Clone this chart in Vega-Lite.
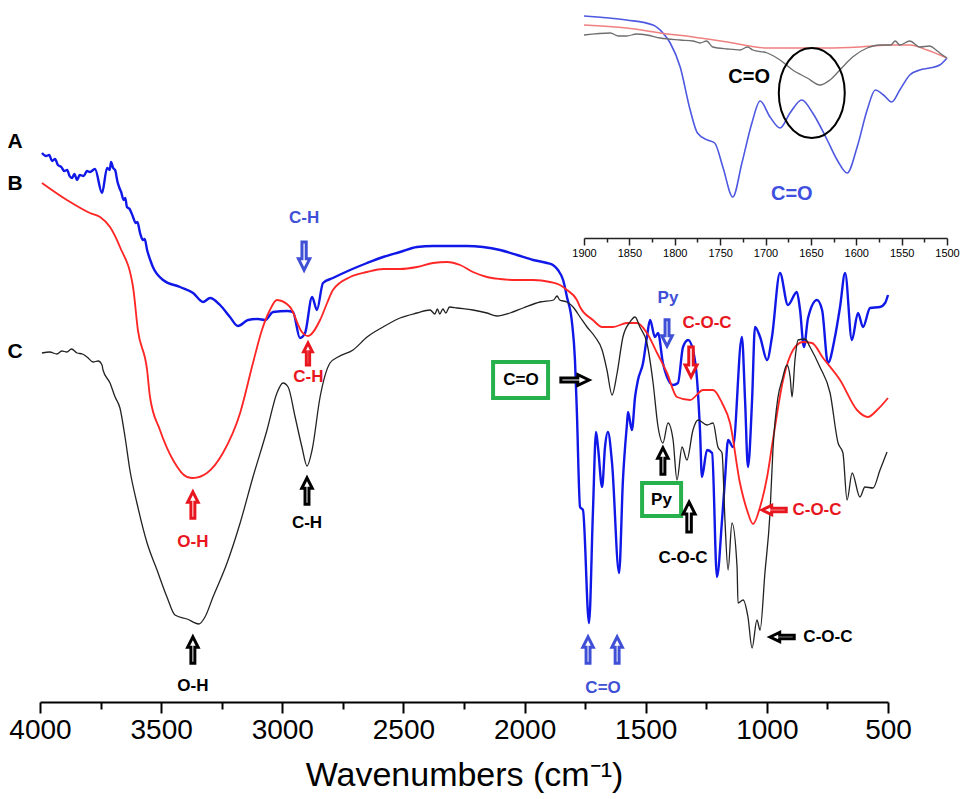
{
"$schema": "https://vega.github.io/schema/vega-lite/v6.json",
"width": 848, "height": 702,
"autosize": "none",
"padding": {"left": 40, "top": 0, "right": 74, "bottom": 97},
"background": "white",
"config": {"view": {"stroke": null}, "font": "Liberation Sans"},
"datasets": {
"main": [
{"s":"A","w":3992,"t":549},{"s":"A","w":3975,"t":546},{"s":"A","w":3962,"t":547},{"s":"A","w":3950,"t":541},{"s":"A","w":3938,"t":543},{"s":"A","w":3926,"t":537},{"s":"A","w":3912,"t":535},{"s":"A","w":3900,"t":531},{"s":"A","w":3888,"t":532},{"s":"A","w":3878,"t":526},{"s":"A","w":3868,"t":524},{"s":"A","w":3858,"t":528},{"s":"A","w":3847,"t":522},{"s":"A","w":3836,"t":527},{"s":"A","w":3820,"t":526},{"s":"A","w":3806,"t":531},{"s":"A","w":3794,"t":530},{"s":"A","w":3773,"t":533},{"s":"A","w":3744,"t":509},{"s":"A","w":3723,"t":534},{"s":"A","w":3712,"t":532},{"s":"A","w":3707,"t":540},{"s":"A","w":3698,"t":534},{"s":"A","w":3690,"t":532},{"s":"A","w":3680,"t":520},{"s":"A","w":3672,"t":514},{"s":"A","w":3665,"t":510},{"s":"A","w":3655,"t":502},{"s":"A","w":3648,"t":504},{"s":"A","w":3641,"t":495},{"s":"A","w":3630,"t":493},{"s":"A","w":3616,"t":485},{"s":"A","w":3605,"t":479},{"s":"A","w":3598,"t":480},{"s":"A","w":3587,"t":469},{"s":"A","w":3575,"t":462},{"s":"A","w":3568,"t":463},{"s":"A","w":3558,"t":452},{"s":"A","w":3545,"t":442},{"s":"A","w":3534,"t":435},{"s":"A","w":3492,"t":422},{"s":"A","w":3422,"t":415},{"s":"A","w":3368,"t":409},{"s":"A","w":3327,"t":400},{"s":"A","w":3298,"t":404},{"s":"A","w":3257,"t":397},{"s":"A","w":3216,"t":385},{"s":"A","w":3183,"t":376},{"s":"A","w":3141,"t":382},{"s":"A","w":3100,"t":383},{"s":"A","w":3071,"t":382},{"s":"A","w":3038,"t":390},{"s":"A","w":2980,"t":391},{"s":"A","w":2956,"t":390},{"s":"A","w":2927,"t":364},{"s":"A","w":2906,"t":369},{"s":"A","w":2877,"t":405},{"s":"A","w":2857,"t":392},{"s":"A","w":2832,"t":419},{"s":"A","w":2791,"t":424},{"s":"A","w":2720,"t":432},{"s":"A","w":2650,"t":439},{"s":"A","w":2584,"t":445},{"s":"A","w":2514,"t":450},{"s":"A","w":2444,"t":455},{"s":"A","w":2378,"t":456},{"s":"A","w":2238,"t":456},{"s":"A","w":2172,"t":455},{"s":"A","w":2101,"t":452},{"s":"A","w":2031,"t":447},{"s":"A","w":1965,"t":442},{"s":"A","w":1907,"t":439},{"s":"A","w":1883,"t":437},{"s":"A","w":1862,"t":432},{"s":"A","w":1841,"t":422},{"s":"A","w":1825,"t":405},{"s":"A","w":1804,"t":379},{"s":"A","w":1792,"t":342},{"s":"A","w":1784,"t":289},{"s":"A","w":1771,"t":195},{"s":"A","w":1759,"t":192},{"s":"A","w":1734,"t":79},{"s":"A","w":1718,"t":189},{"s":"A","w":1705,"t":270},{"s":"A","w":1697,"t":255},{"s":"A","w":1680,"t":215},{"s":"A","w":1668,"t":255},{"s":"A","w":1656,"t":270},{"s":"A","w":1639,"t":239},{"s":"A","w":1610,"t":129},{"s":"A","w":1594,"t":222},{"s":"A","w":1577,"t":279},{"s":"A","w":1573,"t":290},{"s":"A","w":1557,"t":272},{"s":"A","w":1544,"t":305},{"s":"A","w":1532,"t":322},{"s":"A","w":1511,"t":339},{"s":"A","w":1495,"t":365},{"s":"A","w":1482,"t":382},{"s":"A","w":1462,"t":365},{"s":"A","w":1449,"t":369},{"s":"A","w":1429,"t":339},{"s":"A","w":1387,"t":317},{"s":"A","w":1367,"t":319},{"s":"A","w":1346,"t":355},{"s":"A","w":1325,"t":362},{"s":"A","w":1305,"t":352},{"s":"A","w":1288,"t":322},{"s":"A","w":1276,"t":272},{"s":"A","w":1268,"t":225},{"s":"A","w":1247,"t":252},{"s":"A","w":1226,"t":249},{"s":"A","w":1206,"t":125},{"s":"A","w":1185,"t":182},{"s":"A","w":1173,"t":222},{"s":"A","w":1160,"t":262},{"s":"A","w":1140,"t":255},{"s":"A","w":1103,"t":365},{"s":"A","w":1090,"t":302},{"s":"A","w":1078,"t":235},{"s":"A","w":1061,"t":302},{"s":"A","w":1049,"t":375},{"s":"A","w":1028,"t":365},{"s":"A","w":999,"t":342},{"s":"A","w":979,"t":365},{"s":"A","w":946,"t":429},{"s":"A","w":913,"t":397},{"s":"A","w":876,"t":410},{"s":"A","w":863,"t":392},{"s":"A","w":847,"t":355},{"s":"A","w":830,"t":384},{"s":"A","w":793,"t":402},{"s":"A","w":772,"t":392},{"s":"A","w":748,"t":339},{"s":"A","w":719,"t":365},{"s":"A","w":698,"t":395},{"s":"A","w":677,"t":429},{"s":"A","w":649,"t":362},{"s":"A","w":624,"t":389},{"s":"A","w":603,"t":375},{"s":"A","w":574,"t":394},{"s":"A","w":533,"t":395},{"s":"A","w":512,"t":399},{"s":"A","w":500,"t":407},
{"s":"B","w":3992,"t":519},{"s":"B","w":3889,"t":502},{"s":"B","w":3794,"t":489},{"s":"B","w":3752,"t":485},{"s":"B","w":3711,"t":475},{"s":"B","w":3670,"t":455},{"s":"B","w":3616,"t":415},{"s":"B","w":3596,"t":372},{"s":"B","w":3558,"t":332},{"s":"B","w":3546,"t":305},{"s":"B","w":3505,"t":272},{"s":"B","w":3451,"t":242},{"s":"B","w":3393,"t":225},{"s":"B","w":3368,"t":224},{"s":"B","w":3311,"t":229},{"s":"B","w":3245,"t":249},{"s":"B","w":3174,"t":289},{"s":"B","w":3121,"t":339},{"s":"B","w":3084,"t":372},{"s":"B","w":3051,"t":392},{"s":"B","w":3022,"t":402},{"s":"B","w":2968,"t":395},{"s":"B","w":2919,"t":370},{"s":"B","w":2894,"t":366},{"s":"B","w":2844,"t":382},{"s":"B","w":2815,"t":399},{"s":"B","w":2791,"t":412},{"s":"B","w":2720,"t":425},{"s":"B","w":2650,"t":430},{"s":"B","w":2584,"t":433},{"s":"B","w":2514,"t":433},{"s":"B","w":2444,"t":435},{"s":"B","w":2378,"t":439},{"s":"B","w":2320,"t":440},{"s":"B","w":2266,"t":437},{"s":"B","w":2213,"t":430},{"s":"B","w":2155,"t":425},{"s":"B","w":2101,"t":423},{"s":"B","w":2031,"t":422},{"s":"B","w":1965,"t":422},{"s":"B","w":1895,"t":420},{"s":"B","w":1854,"t":417},{"s":"B","w":1825,"t":412},{"s":"B","w":1784,"t":402},{"s":"B","w":1771,"t":395},{"s":"B","w":1718,"t":382},{"s":"B","w":1680,"t":375},{"s":"B","w":1635,"t":375},{"s":"B","w":1577,"t":379},{"s":"B","w":1536,"t":379},{"s":"B","w":1495,"t":369},{"s":"B","w":1453,"t":349},{"s":"B","w":1412,"t":329},{"s":"B","w":1371,"t":305},{"s":"B","w":1317,"t":302},{"s":"B","w":1263,"t":312},{"s":"B","w":1222,"t":312},{"s":"B","w":1185,"t":299},{"s":"B","w":1152,"t":279},{"s":"B","w":1111,"t":219},{"s":"B","w":1082,"t":192},{"s":"B","w":1057,"t":178},{"s":"B","w":1028,"t":195},{"s":"B","w":999,"t":225},{"s":"B","w":975,"t":262},{"s":"B","w":933,"t":322},{"s":"B","w":892,"t":352},{"s":"B","w":851,"t":360},{"s":"B","w":814,"t":359},{"s":"B","w":768,"t":344},{"s":"B","w":698,"t":322},{"s":"B","w":628,"t":292},{"s":"B","w":583,"t":285},{"s":"B","w":545,"t":292},{"s":"B","w":500,"t":304},
{"s":"C","w":3992,"t":349},{"s":"C","w":3960,"t":350},{"s":"C","w":3930,"t":348},{"s":"C","w":3910,"t":351},{"s":"C","w":3889,"t":350},{"s":"C","w":3870,"t":353},{"s":"C","w":3847,"t":349},{"s":"C","w":3825,"t":348},{"s":"C","w":3806,"t":345},{"s":"C","w":3781,"t":340},{"s":"C","w":3760,"t":341},{"s":"C","w":3744,"t":337},{"s":"C","w":3740,"t":332},{"s":"C","w":3711,"t":319},{"s":"C","w":3690,"t":305},{"s":"C","w":3670,"t":294},{"s":"C","w":3649,"t":265},{"s":"C","w":3629,"t":232},{"s":"C","w":3600,"t":199},{"s":"C","w":3558,"t":159},{"s":"C","w":3517,"t":132},{"s":"C","w":3476,"t":105},{"s":"C","w":3443,"t":87},{"s":"C","w":3393,"t":83},{"s":"C","w":3344,"t":78},{"s":"C","w":3319,"t":85},{"s":"C","w":3286,"t":105},{"s":"C","w":3228,"t":139},{"s":"C","w":3174,"t":179},{"s":"C","w":3121,"t":225},{"s":"C","w":3063,"t":272},{"s":"C","w":3022,"t":309},{"s":"C","w":2997,"t":319},{"s":"C","w":2976,"t":315},{"s":"C","w":2947,"t":285},{"s":"C","w":2919,"t":255},{"s":"C","w":2898,"t":236},{"s":"C","w":2877,"t":252},{"s":"C","w":2844,"t":305},{"s":"C","w":2803,"t":339},{"s":"C","w":2770,"t":345},{"s":"C","w":2708,"t":352},{"s":"C","w":2650,"t":365},{"s":"C","w":2584,"t":375},{"s":"C","w":2514,"t":384},{"s":"C","w":2444,"t":389},{"s":"C","w":2390,"t":392},{"s":"C","w":2370,"t":388},{"s":"C","w":2360,"t":393},{"s":"C","w":2350,"t":388},{"s":"C","w":2337,"t":393},{"s":"C","w":2325,"t":389},{"s":"C","w":2310,"t":395},{"s":"C","w":2279,"t":394},{"s":"C","w":2213,"t":392},{"s":"C","w":2155,"t":389},{"s":"C","w":2114,"t":386},{"s":"C","w":2060,"t":389},{"s":"C","w":2006,"t":394},{"s":"C","w":1936,"t":400},{"s":"C","w":1880,"t":402},{"s":"C","w":1866,"t":406},{"s":"C","w":1855,"t":402},{"s":"C","w":1825,"t":400},{"s":"C","w":1800,"t":395},{"s":"C","w":1771,"t":385},{"s":"C","w":1742,"t":375},{"s":"C","w":1709,"t":365},{"s":"C","w":1680,"t":352},{"s":"C","w":1660,"t":332},{"s":"C","w":1639,"t":307},{"s":"C","w":1618,"t":329},{"s":"C","w":1594,"t":365},{"s":"C","w":1565,"t":380},{"s":"C","w":1544,"t":385},{"s":"C","w":1524,"t":375},{"s":"C","w":1495,"t":359},{"s":"C","w":1470,"t":320},{"s":"C","w":1449,"t":275},{"s":"C","w":1429,"t":259},{"s":"C","w":1408,"t":279},{"s":"C","w":1387,"t":262},{"s":"C","w":1371,"t":222},{"s":"C","w":1350,"t":255},{"s":"C","w":1330,"t":242},{"s":"C","w":1305,"t":272},{"s":"C","w":1284,"t":282},{"s":"C","w":1247,"t":277},{"s":"C","w":1222,"t":279},{"s":"C","w":1202,"t":255},{"s":"C","w":1185,"t":249},{"s":"C","w":1173,"t":182},{"s":"C","w":1160,"t":132},{"s":"C","w":1144,"t":179},{"s":"C","w":1123,"t":135},{"s":"C","w":1119,"t":99},{"s":"C","w":1098,"t":102},{"s":"C","w":1078,"t":85},{"s":"C","w":1061,"t":54},{"s":"C","w":1041,"t":82},{"s":"C","w":1028,"t":72},{"s":"C","w":1008,"t":129},{"s":"C","w":987,"t":189},{"s":"C","w":975,"t":252},{"s":"C","w":954,"t":305},{"s":"C","w":937,"t":322},{"s":"C","w":917,"t":337},{"s":"C","w":904,"t":325},{"s":"C","w":896,"t":305},{"s":"C","w":884,"t":342},{"s":"C","w":871,"t":362},{"s":"C","w":842,"t":363},{"s":"C","w":822,"t":355},{"s":"C","w":781,"t":335},{"s":"C","w":739,"t":309},{"s":"C","w":706,"t":259},{"s":"C","w":686,"t":249},{"s":"C","w":669,"t":202},{"s":"C","w":648,"t":229},{"s":"C","w":616,"t":205},{"s":"C","w":595,"t":215},{"s":"C","w":562,"t":214},{"s":"C","w":533,"t":232},{"s":"C","w":504,"t":250}
],
"inset": [
{"s":"A","w":1900,"t":686},{"s":"A","w":1853,"t":682},{"s":"A","w":1824,"t":677},{"s":"A","w":1813,"t":669},{"s":"A","w":1805,"t":659},{"s":"A","w":1794,"t":635},{"s":"A","w":1783,"t":592},{"s":"A","w":1775,"t":569},{"s":"A","w":1764,"t":562},{"s":"A","w":1756,"t":559},{"s":"A","w":1747,"t":535},{"s":"A","w":1736,"t":505},{"s":"A","w":1726,"t":539},{"s":"A","w":1715,"t":579},{"s":"A","w":1706,"t":601},{"s":"A","w":1695,"t":585},{"s":"A","w":1684,"t":574},{"s":"A","w":1673,"t":589},{"s":"A","w":1660,"t":602},{"s":"A","w":1648,"t":589},{"s":"A","w":1632,"t":562},{"s":"A","w":1621,"t":542},{"s":"A","w":1610,"t":529},{"s":"A","w":1599,"t":555},{"s":"A","w":1588,"t":592},{"s":"A","w":1579,"t":612},{"s":"A","w":1570,"t":607},{"s":"A","w":1561,"t":600},{"s":"A","w":1552,"t":612},{"s":"A","w":1541,"t":627},{"s":"A","w":1530,"t":632},{"s":"A","w":1519,"t":634},{"s":"A","w":1508,"t":637},{"s":"A","w":1500,"t":644},
{"s":"B","w":1900,"t":677},{"s":"B","w":1853,"t":674},{"s":"B","w":1816,"t":669},{"s":"B","w":1780,"t":665},{"s":"B","w":1742,"t":660},{"s":"B","w":1698,"t":654},{"s":"B","w":1670,"t":654},{"s":"B","w":1632,"t":654},{"s":"B","w":1596,"t":655},{"s":"B","w":1560,"t":657},{"s":"B","w":1541,"t":657},{"s":"B","w":1522,"t":652},{"s":"B","w":1500,"t":644},
{"s":"C","w":1900,"t":667},{"s":"C","w":1871,"t":669},{"s":"C","w":1862,"t":666},{"s":"C","w":1853,"t":666},{"s":"C","w":1842,"t":668},{"s":"C","w":1831,"t":667},{"s":"C","w":1816,"t":664},{"s":"C","w":1794,"t":662},{"s":"C","w":1780,"t":661},{"s":"C","w":1772,"t":659},{"s":"C","w":1765,"t":661},{"s":"C","w":1758,"t":655},{"s":"C","w":1742,"t":653},{"s":"C","w":1728,"t":652},{"s":"C","w":1720,"t":655},{"s":"C","w":1714,"t":652},{"s":"C","w":1698,"t":649},{"s":"C","w":1684,"t":642},{"s":"C","w":1670,"t":632},{"s":"C","w":1654,"t":624},{"s":"C","w":1640,"t":617},{"s":"C","w":1629,"t":622},{"s":"C","w":1615,"t":635},{"s":"C","w":1604,"t":645},{"s":"C","w":1588,"t":654},{"s":"C","w":1574,"t":657},{"s":"C","w":1562,"t":657},{"s":"C","w":1557,"t":661},{"s":"C","w":1552,"t":657},{"s":"C","w":1541,"t":661},{"s":"C","w":1530,"t":655},{"s":"C","w":1519,"t":656},{"s":"C","w":1512,"t":652},{"s":"C","w":1508,"t":649},{"s":"C","w":1500,"t":644}
],
"arrows": [
{"s":"A","w":2910,"t":446,"dir":"down","k":"l"},
{"s":"B","w":2894,"t":348,"dir":"up","k":"xs"},
{"s":"B","w":3369,"t":197,"dir":"up","k":"m"},
{"s":"C","w":2898,"t":211,"dir":"up","k":"m"},
{"s":"C","w":3369,"t":52,"dir":"up","k":"m"},
{"s":"A","w":1738,"t":52,"dir":"up","k":"m"},
{"s":"A","w":1618,"t":52,"dir":"up","k":"m"},
{"s":"C","w":1792,"t":322,"dir":"right","k":"l"},
{"s":"A","w":1412,"t":369,"dir":"down","k":"m"},
{"s":"B","w":1313,"t":340,"dir":"down","k":"xl"},
{"s":"C","w":1429,"t":241,"dir":"up","k":"m"},
{"s":"C","w":1321,"t":185,"dir":"up","k":"xl"},
{"s":"B","w":970,"t":192,"dir":"left","k":"s"},
{"s":"C","w":937,"t":65,"dir":"left","k":"s"}
],
"boxes": [
{"wa":2130,"wb":1903,"ta":340,"tb":304},
{"wa":1515,"wb":1354,"ta":219,"tb":186}
],
"labels": [
{"s":"A","w":2910,"t":484,"txt":"C-H"},
{"s":"B","w":2892,"t":325,"txt":"C-H"},
{"s":"B","w":3369,"t":160,"txt":"O-H"},
{"s":"C","w":2898,"t":179,"txt":"C-H"},
{"s":"C","w":3369,"t":16,"txt":"O-H"},
{"s":"A","w":1676,"t":14,"txt":"C=O"},
{"s":"C","w":2015,"t":322,"txt":"C=O"},
{"s":"A","w":1408,"t":404,"txt":"Py"},
{"s":"B","w":1247,"t":379,"txt":"C-O-C"},
{"s":"C","w":1435,"t":202,"txt":"Py"},
{"s":"C","w":1346,"t":144,"txt":"C-O-C"},
{"s":"B","w":793,"t":192,"txt":"C-O-C"},
{"s":"C","w":748,"t":65,"txt":"C-O-C"}
],
"samples": [
{"w":4103,"t":560,"txt":"A"},{"w":4103,"t":518,"txt":"B"},{"w":4103,"t":350,"txt":"C"}
],
"insetlabels": [
{"s":"C","w":1718,"t":625,"txt":"C=O"},{"s":"A","w":1671,"t":508,"txt":"C=O"}
],
"ellipse": [{"w":1649,"t":609}]
},
"layer": [
{
"layer": [
{
"data": {"name": "main"},
"mark": {"type": "line", "interpolate": "monotone"},
"encoding": {
"x": {"field": "w", "type": "quantitative",
"scale": {"domain": [4000, 500], "nice": false, "zero": false},
"axis": {"orient": "bottom", "values": [4000,3750,3500,3250,3000,2750,2500,2250,2000,1750,1500,1250,1000,750,500],
"format": "d", "labelExpr": "datum.value % 500 === 0 ? datum.label : ''",
"tickSize": {"condition": {"test": "datum.value % 500 === 0", "value": 11}, "value": 7},
"tickWidth": 2, "tickColor": "black", "domainWidth": 2, "domainColor": "black",
"labelFont": "Liberation Sans", "labelFontSize": 28, "labelColor": "black", "labelPadding": 3,
"labelOverlap": false, "labelFlush": false, "labelBound": false, "grid": false,
"title": "Wavenumbers (cm⁻¹)", "titleFont": "Liberation Sans", "titleFontSize": 34, "titleFontWeight": "normal", "titleColor": "black", "titlePadding": 14}},
"y": {"field": "t", "type": "quantitative", "scale": {"domain": [0, 702], "nice": false, "zero": false}, "axis": null},
"color": {"field": "s", "type": "nominal", "scale": {"domain": ["A","B","C"], "range": ["#1018e8", "#ff2626", "#222222"]}, "legend": null},
"strokeWidth": {"field": "s", "type": "nominal", "scale": {"domain": ["A","B","C"], "range": [2.4, 1.3, 1.2]}, "legend": null}
}
},
{
"data": {"name": "boxes"},
"mark": {"type": "rect", "fill": "white", "stroke": "#26b14c", "strokeWidth": 4},
"encoding": {
"x": {"field": "wa", "type": "quantitative", "scale": {"domain": [4000, 500], "nice": false, "zero": false}},
"x2": {"field": "wb"},
"y": {"field": "ta", "type": "quantitative", "scale": {"domain": [0, 702], "nice": false, "zero": false}},
"y2": {"field": "tb"}
}
},
{
"data": {"name": "arrows"},
"mark": {"type": "point", "filled": true, "fill": "white", "strokeWidth": 3, "opacity": 1},
"encoding": {
"x": {"field": "w", "type": "quantitative", "scale": {"domain": [4000, 500], "nice": false, "zero": false}},
"y": {"field": "t", "type": "quantitative", "scale": {"domain": [0, 702], "nice": false, "zero": false}},
"stroke": {"field": "s", "type": "nominal", "scale": {"domain": ["A","B","C"], "range": ["#3f50d6", "#e8161e", "#000000"]}, "legend": null},
"shape": {"field": "dir", "type": "nominal", "scale": {"domain": ["up","down","right","left"], "range": [
"M0,-1L0.4,-0.2L0.15,-0.2L0.15,1L-0.15,1L-0.15,-0.2L-0.4,-0.2Z",
"M0,1L0.4,0.2L0.15,0.2L0.15,-1L-0.15,-1L-0.15,0.2L-0.4,0.2Z",
"M1,0L0.2,-0.38L0.2,-0.15L-1,-0.15L-1,0.15L0.2,0.15L0.2,0.38Z",
"M-1,0L-0.2,-0.38L-0.2,-0.15L1,-0.15L1,0.15L-0.2,0.15L-0.2,0.38Z"]}, "legend": null},
"size": {"field": "k", "type": "ordinal", "scale": {"domain": ["xs","s","m","l","xl"], "range": [484, 900, 1369, 2025, 3025]}, "legend": null}
}
},
{
"data": {"name": "labels"},
"mark": {"type": "text", "fontWeight": "bold", "fontSize": 17, "align": "center", "baseline": "middle"},
"encoding": {
"x": {"field": "w", "type": "quantitative", "scale": {"domain": [4000, 500], "nice": false, "zero": false}},
"y": {"field": "t", "type": "quantitative", "scale": {"domain": [0, 702], "nice": false, "zero": false}},
"text": {"field": "txt"},
"color": {"field": "s", "type": "nominal", "scale": {"domain": ["A","B","C"], "range": ["#3f50d6", "#e8161e", "#000000"]}, "legend": null}
}
},
{
"data": {"name": "samples"},
"mark": {"type": "text", "fontWeight": "bold", "fontSize": 21, "align": "center", "baseline": "middle", "color": "black"},
"encoding": {
"x": {"field": "w", "type": "quantitative", "scale": {"domain": [4000, 500], "nice": false, "zero": false}},
"y": {"field": "t", "type": "quantitative", "scale": {"domain": [0, 702], "nice": false, "zero": false}},
"text": {"field": "txt"}
}
}
],
"resolve": {"scale": {"color": "independent", "stroke": "independent"}}
},
{
"layer": [
{
"data": {"name": "inset"},
"mark": {"type": "line", "interpolate": "monotone"},
"encoding": {
"x": {"field": "w", "type": "quantitative",
"scale": {"domain": [1900, 1500], "range": [544, 907], "nice": false, "zero": false},
"axis": {"orient": "bottom", "offset": -464, "values": [1900,1875,1850,1825,1800,1775,1750,1725,1700,1675,1650,1625,1600,1575,1550,1525,1500],
"format": "d", "labelExpr": "datum.value % 50 === 0 ? datum.label : ''",
"tickSize": {"condition": {"test": "datum.value % 50 === 0", "value": 7}, "value": 4},
"tickWidth": 1.5, "tickColor": "#222", "domainWidth": 1.5, "domainColor": "#222",
"labelFont": "Liberation Sans", "labelFontSize": 11, "labelColor": "black", "labelPadding": 2,
"labelOverlap": false, "labelFlush": false, "labelBound": false, "grid": false, "title": null}},
"y": {"field": "t", "type": "quantitative", "scale": {"domain": [0, 702], "nice": false, "zero": false}, "axis": null},
"color": {"field": "s", "type": "nominal", "scale": {"domain": ["A","B","C"], "range": ["#4d58e0", "#f08080", "#6e6e6e"]}, "legend": null},
"strokeWidth": {"field": "s", "type": "nominal", "scale": {"domain": ["A","B","C"], "range": [1.6, 1.3, 1.3]}, "legend": null}
}
},
{
"data": {"name": "ellipse"},
"mark": {"type": "point", "filled": false, "stroke": "black", "strokeWidth": 2, "opacity": 1,
"shape": "M-0.733,0A0.733,1,0,1,0,0.733,0A0.733,1,0,1,0,-0.733,0Z", "size": 8100},
"encoding": {
"x": {"field": "w", "type": "quantitative", "scale": {"domain": [1900, 1500], "range": [544, 907], "nice": false, "zero": false}},
"y": {"field": "t", "type": "quantitative", "scale": {"domain": [0, 702], "nice": false, "zero": false}}
}
},
{
"data": {"name": "insetlabels"},
"mark": {"type": "text", "fontWeight": "bold", "fontSize": 20, "align": "center", "baseline": "middle"},
"encoding": {
"x": {"field": "w", "type": "quantitative", "scale": {"domain": [1900, 1500], "range": [544, 907], "nice": false, "zero": false}},
"y": {"field": "t", "type": "quantitative", "scale": {"domain": [0, 702], "nice": false, "zero": false}},
"text": {"field": "txt"},
"color": {"field": "s", "type": "nominal", "scale": {"domain": ["A","C"], "range": ["#3f50e0", "#000000"]}, "legend": null}
}
}
],
"resolve": {"scale": {"color": "independent"}}
}
],
"resolve": {"scale": {"x": "independent", "color": "independent", "strokeWidth": "independent"}, "axis": {"x": "independent"}}
}
